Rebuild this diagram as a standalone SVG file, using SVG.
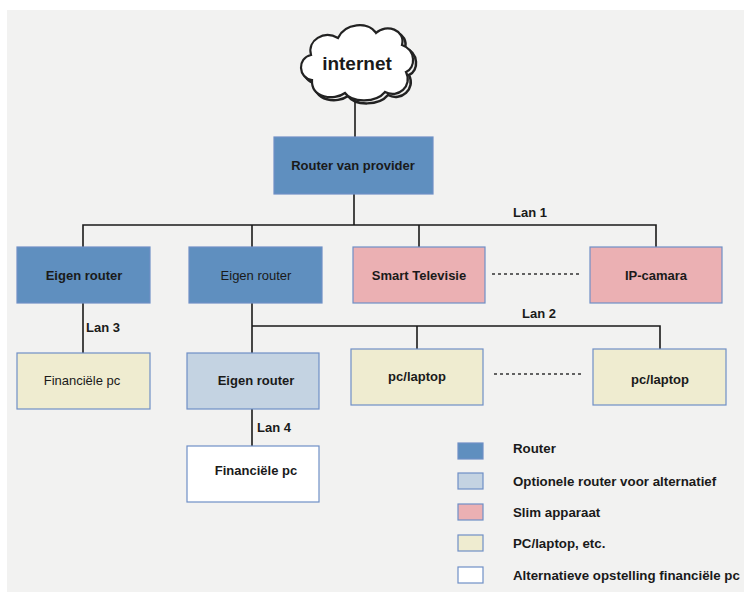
<svg xmlns="http://www.w3.org/2000/svg" width="744" height="592" viewBox="0 0 744 592">
<style>
text{font-family:"Liberation Sans",Arial,sans-serif;font-size:13px;fill:#1a1a1a;text-anchor:middle}
.b{font-weight:bold}
.l{text-anchor:start}
.lg{font-size:13.3px}
.box{stroke:#6f8fc6;stroke-width:1.2}
.rt{fill:#5f8fbf}
.opt{fill:#c4d3e2}
.sm{fill:#ebb0b3}
.pc{fill:#efecd0}
.wh{fill:#ffffff}
.ln{stroke:#1a1a1a;stroke-width:1.6;fill:none}
.dot{stroke:#333;stroke-width:1.5;stroke-dasharray:3 3;fill:none}
</style>
<defs>
<path id="cloudp" d="M312,80 C298,78 297,58 311,55 C307,40 324,30 338,38 C345,23 368,21 376,33 C386,23 406,30 402,45 C416,50 416,68 406,72 C413,86 398,99 385,92 C376,103 352,103 345,93 C334,101 311,98 312,80 Z"/>
</defs>
<rect x="0" y="0" width="744" height="592" fill="#ffffff"/>
<rect x="7" y="10" width="737" height="582" fill="#f2f2f1"/>

<g id="connectors">
<line class="ln" x1="355" y1="101" x2="355" y2="137"/>
<line class="ln" x1="354" y1="194" x2="354" y2="225"/>
<polyline class="ln" points="83,247 83,225 656,225 656,247"/>
<line class="ln" x1="252" y1="225" x2="252" y2="247"/>
<line class="ln" x1="419" y1="225" x2="419" y2="247"/>
<line class="ln" x1="83" y1="303" x2="83" y2="353"/>
<line class="ln" x1="252" y1="303" x2="252" y2="353"/>
<polyline class="ln" points="252,326 660,326 660,349"/>
<line class="ln" x1="417" y1="326" x2="417" y2="349"/>
<line class="ln" x1="252" y1="409" x2="252" y2="446"/>
<line class="dot" x1="492" y1="274" x2="580" y2="274"/>
<line class="dot" x1="494" y1="374" x2="583" y2="374"/>
<text class="b" x="530" y="217">Lan 1</text>
<text class="b" x="539" y="318">Lan 2</text>
<text class="b l" x="86" y="332">Lan 3</text>
<text class="b l" x="257" y="432">Lan 4</text>
</g>

<g id="internet">
<use href="#cloudp" transform="translate(3,3)" fill="none" stroke="#222" stroke-width="2.5"/>
<use href="#cloudp" fill="#ffffff" stroke="#222" stroke-width="2.2"/>
<text class="b" x="357" y="70" style="font-size:19px">internet</text>
</g>

<g id="router-provider">
<rect class="box rt" x="274" y="137" width="159" height="57"/>
<text class="b" x="353" y="170">Router van provider</text>
</g>

<g id="eigen-router-1">
<rect class="box rt" x="17" y="247" width="133" height="56"/>
<text class="b" x="84" y="280">Eigen router</text>
</g>
<g id="eigen-router-2">
<rect class="box rt" x="189" y="247" width="133" height="56"/>
<text x="256" y="280">Eigen router</text>
</g>
<g id="smart-tv">
<rect class="box sm" x="353" y="247" width="132" height="56"/>
<text class="b" x="419" y="280">Smart Televisie</text>
</g>
<g id="ip-camara">
<rect class="box sm" x="590" y="247" width="132" height="56"/>
<text class="b" x="656" y="280">IP-camara</text>
</g>

<g id="financiele-pc-1">
<rect class="box pc" x="17" y="353" width="133" height="56"/>
<text x="82" y="385">Financiële pc</text>
</g>
<g id="eigen-router-3">
<rect class="box opt" x="187" y="353" width="132" height="56"/>
<text class="b" x="256" y="385">Eigen router</text>
</g>
<g id="pc-laptop-1">
<rect class="box pc" x="351" y="349" width="132" height="56"/>
<text class="b" x="417" y="381">pc/laptop</text>
</g>
<g id="pc-laptop-2">
<rect class="box pc" x="593" y="349" width="133" height="56"/>
<text class="b" x="660" y="384">pc/laptop</text>
</g>
<g id="financiele-pc-2">
<rect class="box wh" x="187" y="446" width="132" height="56"/>
<text class="b" x="256" y="475">Financiële pc</text>
</g>

<g id="legend">
<rect class="box rt" x="458" y="443" width="25" height="16"/>
<text class="b l lg" x="513" y="453">Router</text>
<rect class="box opt" x="458" y="473" width="25" height="16"/>
<text class="b l lg" x="513" y="486">Optionele router voor alternatief</text>
<rect class="box sm" x="458" y="504" width="25" height="16"/>
<text class="b l lg" x="513" y="517">Slim apparaat</text>
<rect class="box pc" x="458" y="535" width="25" height="16"/>
<text class="b l lg" x="513" y="548">PC/laptop, etc.</text>
<rect class="box wh" x="458" y="567" width="25" height="16"/>
<text class="b l lg" x="513" y="580">Alternatieve opstelling financiële pc</text>
</g>
</svg>
